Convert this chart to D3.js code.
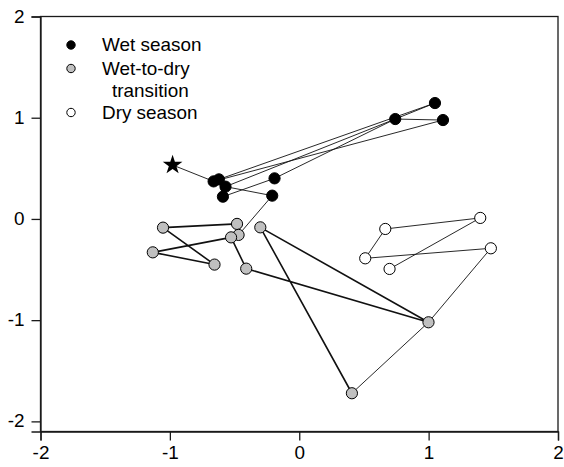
<!DOCTYPE html>
<html>
<head>
<meta charset="utf-8">
<script src="https://cdn.jsdelivr.net/npm/d3@7/dist/d3.min.js"></script>
<style>
  html, body { margin: 0; padding: 0; background: #fff; }
  svg { display: block; }
  text { font-family: "Liberation Sans", Arial, Helvetica, sans-serif; fill: #000; }
</style>
</head>
<body>
<svg id="chart" width="564" height="467"></svg>
<script>
// Ordination scores per sample (axis 1, axis 2)
const startPoint = { id: "S", x: -0.979, y: 0.533 };

const wetIds = ["A", "B", "C", "D", "E", "F", "R1", "R2", "R3"];
const wetX   = [-0.662, -0.621, -0.570, -0.590, -0.191, -0.209, 0.742, 1.049, 1.111];
const wetY   = [ 0.371,  0.391,  0.319,  0.220,  0.401,  0.230, 0.987, 1.145, 0.977];

const transIds = ["G1", "G2", "G3", "G4", "G5", "G6", "G7", "G8", "G9", "G10"];
const transX   = [-1.053, -0.481, -0.469, -0.527, -0.301, -1.132, -0.655, -0.410, 0.999, 0.407];
const transY   = [-0.086, -0.049, -0.158, -0.182, -0.083, -0.330, -0.451, -0.491, -1.021, -1.722];

const dryIds = ["D1", "D2", "D3", "D4", "D5"];
const dryX   = [0.665, 1.399, 0.510, 1.481, 0.698];
const dryY   = [-0.099, 0.010, -0.389, -0.290, -0.494];

// Sampling sequence, split into stretches
const pathWet     = ["S", "A", "R3", "R1", "R2", "B", "D", "E", "R1", "C", "F", "G3", "G2"];
const pathTrans   = ["G2", "G1", "G7", "G6", "G4", "G8", "G9", "G5", "G10"];
const pathDry     = ["G10", "G9", "D4", "D3", "D1", "D2", "D5"];

const xTicks = [-2, -1, 0, 1, 2];
const yTicks = [-2, -1, 0, 1, 2];
const xDomain = [-2, 2];
const yDomain = [-2.1, 2];

const legendLabels = [["Wet season"], ["Wet-to-dry", "transition"], ["Dry season"]];

// ---------------------------------------------------------------
const svg = d3.select("#chart");
const plotLeft = 40.5, plotRight = 558, plotTop = 16.5, plotBottom = 431.5;
const textStretch = 1.08;

const x = d3.scaleLinear().domain(xDomain).range([plotLeft, plotRight]);
const y = d3.scaleLinear().domain(yDomain).range([plotBottom, plotTop]);

const wet = wetIds.map((id, i) => ({ id, x: wetX[i], y: wetY[i], kind: "wet" }));
const trans = transIds.map((id, i) => ({ id, x: transX[i], y: transY[i], kind: "trans" }));
const dry = dryIds.map((id, i) => ({ id, x: dryX[i], y: dryY[i], kind: "dry" }));
const byId = new Map([startPoint, ...wet, ...trans, ...dry].map(d => [d.id, d]));

const fills = { wet: "#000", trans: "#c0c0c0", dry: "#fff" };

// frame
svg.append("rect")
  .attr("x", plotLeft).attr("y", plotTop)
  .attr("width", plotRight - plotLeft).attr("height", plotBottom - plotTop)
  .attr("fill", "none").attr("stroke", "#1a1a1a").attr("stroke-width", 1.3);

// axes
const xAxis = svg.append("g")
  .attr("transform", `translate(0,${plotBottom})`)
  .call(d3.axisBottom(x).tickValues(xTicks).tickSize(9).tickPadding(6).tickFormat(d3.format("d")));
const yAxis = svg.append("g")
  .attr("transform", `translate(${plotLeft},0)`)
  .call(d3.axisLeft(y).tickValues(yTicks).tickSize(9).tickPadding(7).tickFormat(d3.format("d")));

[xAxis, yAxis].forEach(g => {
  g.select(".domain").attr("stroke", "#1a1a1a").attr("stroke-width", 1.3);
  g.selectAll(".tick line").attr("stroke", "#1a1a1a").attr("stroke-width", 1.3);
  g.selectAll(".tick text")
    .attr("font-family", "Liberation Sans, Arial, sans-serif")
    .attr("font-size", 17.5).attr("fill", "#000")
    .text(d => d < 0 ? "-" + Math.abs(d) : d);
});
// slightly wide lettering: stretch each tick label about its anchor
xAxis.selectAll(".tick text").attr("transform", `scale(${textStretch},1)`);
yAxis.selectAll(".tick text").each(function () {
  const t = d3.select(this);
  const tx = +t.attr("x");
  t.attr("transform", `translate(${tx},0) scale(${textStretch},1) translate(${-tx},0)`);
});

// trajectory lines
const line = d3.line().x(d => x(d.x)).y(d => y(d.y));
const paths = [
  { ids: pathWet, w: 0.9 },
  { ids: pathTrans, w: 1.6 },
  { ids: pathDry, w: 0.9 }
];
svg.append("g").selectAll("path").data(paths).join("path")
  .attr("d", p => line(p.ids.map(id => byId.get(id))))
  .attr("fill", "none").attr("stroke", "#111")
  .attr("stroke-width", p => p.w).attr("stroke-linejoin", "round");

// sample points
svg.append("g").selectAll("circle").data([...dry, ...trans, ...wet]).join("circle")
  .attr("cx", d => x(d.x)).attr("cy", d => y(d.y)).attr("r", 5.6)
  .attr("fill", d => fills[d.kind]).attr("stroke", "#000").attr("stroke-width", 1);

// starting sample
svg.append("path")
  .attr("d", d3.symbol(d3.symbolStar, 120)())
  .attr("transform", `translate(${x(startPoint.x)},${y(startPoint.y)})`)
  .attr("fill", "#000");

// legend
const legendKinds = ["wet", "trans", "dry"];
const legendY = [45, 68.5, 112.5];
const legend = svg.append("g");
legendKinds.forEach((k, i) => {
  legend.append("circle")
    .attr("cx", 71).attr("cy", legendY[i]).attr("r", 4.2)
    .attr("fill", fills[k]).attr("stroke", "#000").attr("stroke-width", 1);
  legendLabels[i].forEach((t, j) => {
    const tx = j === 0 ? 102 : 112;
    legend.append("text")
      .attr("transform", `translate(${tx},${legendY[i] + 6 + j * 22}) scale(${textStretch},1)`)
      .attr("font-size", 17.5).text(t);
  });
});
</script>
</body>
</html>
